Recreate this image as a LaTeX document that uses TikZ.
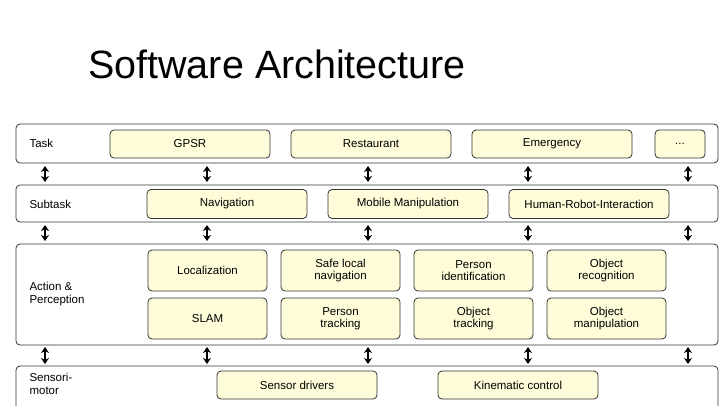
\documentclass[tikz,border=0pt]{standalone}
\usepackage{fontspec}
\setmainfont{Liberation Sans}
\usetikzlibrary{arrows.meta}
\tikzstyle{layer} = [draw=black!80, rounded corners=4pt, fill=white, line width=0.8pt]
\tikzstyle{module} = [draw=black!80, rounded corners=4pt, fill=yellow!15, line width=0.8pt, align=center, font=\fontsize{11.5}{12.5}\selectfont]
\tikzstyle{lname} = [anchor=west, align=left, font=\fontsize{11.5}{12.5}\selectfont]
\tikzstyle{link} = [line width=1.6pt, {Stealth[length=6pt,width=8pt]}-{Stealth[length=6pt,width=8pt]}]
\begin{document}
\begin{tikzpicture}[x=1pt, y=-1pt]
    \useasboundingbox (0,0) rectangle (720,405);
    % Title
    \node (title) [anchor=base west, inner sep=0pt, font=\fontsize{39.5}{42}\selectfont] at (88,78) {Software Architecture};

    % Layers
    \draw [layer] (16,124) rectangle (718,163);
    \draw [layer] (16,185) rectangle (718,222);
    \draw [layer] (16,244) rectangle (718,345);
    \draw [layer] (16,366) rectangle (718,410);
    \node (task) [lname] at (26,143) {Task};
    \node (subtask) [lname] at (26,204) {Subtask};
    \node (action) [lname] at (26,294) {Action \&\\Perception};
    \node (sensor) [lname] at (26,384) {Sensori-\\motor};

    % Task
    \node (gpsr) [module, minimum width=160pt, minimum height=28pt] at (190,144) {GPSR};
    \node (rest) [module, minimum width=160pt, minimum height=28pt] at (371,144) {Restaurant};
    \node (emer) [module, minimum width=160pt, minimum height=28pt] at (552,144) {Emergency};
    \node (more) [module, minimum width=50pt, minimum height=28pt] at (680,144) {...};

    % Subtask
    \node (nav) [module, minimum width=160pt, minimum height=29pt] at (227,204) {Navigation};
    \node (mm) [module, minimum width=160pt, minimum height=29pt] at (408,204) {Mobile Manipulation};
    \node (hri) [module, minimum width=160pt, minimum height=29pt] at (589,204) {Human-Robot-Interaction};

    % Action & Perception
    \node (loc) [module, minimum width=119pt, minimum height=41pt] at (207.5,270.5) {Localization};
    \node (safe) [module, minimum width=119pt, minimum height=41pt] at (340.5,270.5) {Safe local\\navigation};
    \node (pid) [module, minimum width=119pt, minimum height=41pt] at (473.5,270.5) {Person\\identification};
    \node (orec) [module, minimum width=119pt, minimum height=41pt] at (606.5,270.5) {Object\\recognition};
    \node (slam) [module, minimum width=119pt, minimum height=41pt] at (207.5,318.5) {SLAM};
    \node (ptr) [module, minimum width=119pt, minimum height=41pt] at (340.5,318.5) {Person\\tracking};
    \node (otr) [module, minimum width=119pt, minimum height=41pt] at (473.5,318.5) {Object\\tracking};
    \node (oman) [module, minimum width=119pt, minimum height=41pt] at (606.5,318.5) {Object\\manipulation};

    % Sensorimotor
    \node (drv) [module, minimum width=160pt, minimum height=28pt] at (297,385) {Sensor drivers};
    \node (kin) [module, minimum width=160pt, minimum height=28pt] at (518,385) {Kinematic control};

    % Arrows
    \foreach \x in {45,207,368,528,688} {
        \coordinate (a1) at (\x,166); \coordinate (b1) at (\x,182);
        \coordinate (a2) at (\x,225); \coordinate (b2) at (\x,241);
        \coordinate (a3) at (\x,347); \coordinate (b3) at (\x,364);
        \draw [link] (a1) -- (b1);
        \draw [link] (a2) -- (b2);
        \draw [link] (a3) -- (b3);
    }
\end{tikzpicture}
\end{document}
